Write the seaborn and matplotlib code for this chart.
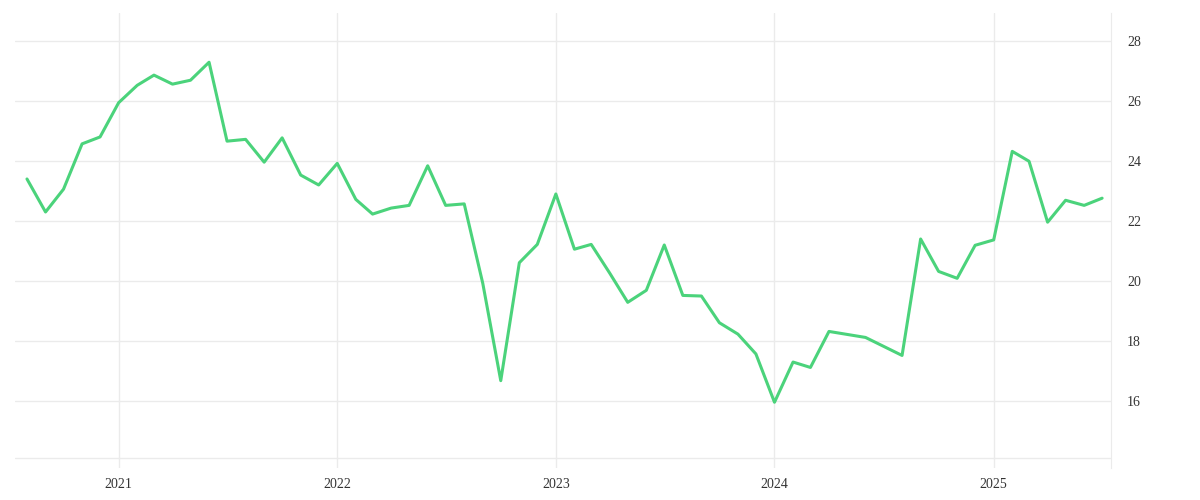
import pandas as pd
import matplotlib.pyplot as plt
import seaborn as sns

# monthly readings (May and Jul 2024 missing in the source)
months = [
    "2020-08", "2020-09", "2020-10", "2020-11", "2020-12",
    "2021-01", "2021-02", "2021-03", "2021-04", "2021-05", "2021-06",
    "2021-07", "2021-08", "2021-09", "2021-10", "2021-11", "2021-12",
    "2022-01", "2022-02", "2022-03", "2022-04", "2022-05", "2022-06",
    "2022-07", "2022-08", "2022-09", "2022-10", "2022-11", "2022-12",
    "2023-01", "2023-02", "2023-03", "2023-04", "2023-05", "2023-06",
    "2023-07", "2023-08", "2023-09", "2023-10", "2023-11", "2023-12",
    "2024-01", "2024-02", "2024-03", "2024-04", "2024-06",
    "2024-08", "2024-09", "2024-10", "2024-11", "2024-12",
    "2025-01", "2025-02", "2025-03", "2025-04", "2025-05", "2025-06",
    "2025-07",
]
values = [
    23.40, 22.30, 23.06, 24.57, 24.80,
    25.94, 26.52, 26.86, 26.56, 26.69, 27.29,
    24.66, 24.72, 23.96, 24.77, 23.53, 23.20,
    23.92, 22.72, 22.23, 22.43, 22.52, 23.84,
    22.52, 22.57, 19.92, 16.68, 20.61, 21.22,
    22.90, 21.06, 21.22, 20.26, 19.29, 19.69,
    21.20, 19.52, 19.50, 18.61, 18.23, 17.57,
    15.96, 17.30, 17.12, 18.32, 18.12,
    17.52, 21.40, 20.32, 20.09, 21.19,
    21.37, 24.32, 23.99, 21.96, 22.69, 22.52,
    22.76,
]
year_ticks = ["2021", "2022", "2023", "2024", "2025"]
value_ticks = [16, 18, 20, 22, 24, 26, 28]

df = pd.DataFrame({"date": pd.to_datetime(months), "value": values})

sns.set_style("white")
plt.rcParams["font.family"] = ["Liberation Serif", "DejaVu Serif"]

fig = plt.figure(figsize=(12, 5), dpi=100)
ax = fig.add_axes([15 / 1200, 32 / 500, (1110.5 - 15) / 1200, (468 - 12.7) / 500])

grid_col = "#ebebeb"
sns.lineplot(data=df, x="date", y="value", ax=ax, color="#4bd37b", linewidth=2.2)

ax.set_xlim(pd.Timestamp("2020-07-12"), pd.Timestamp("2025-07-15"))
ax.set_ylim(13.77, 28.94)
# baseline under the series
ax.axhline(14.1, color=grid_col, linewidth=1, zorder=0)

ax.yaxis.tick_right()
ax.set_yticks(value_ticks)
ax.set_yticklabels([str(v) for v in value_ticks])
ax.set_xticks(pd.to_datetime([y + "-01-01" for y in year_ticks]))
ax.set_xticklabels(year_ticks)
ax.tick_params(axis="both", length=0, labelsize=10, colors="#333333")
ax.tick_params(axis="y", pad=12)
ax.tick_params(axis="x", pad=7)

ax.grid(True, color=grid_col, linewidth=1)
ax.set_axisbelow(True)
for side in ["left", "top", "bottom"]:
    ax.spines[side].set_visible(False)
ax.spines["right"].set_color(grid_col)
ax.set_xlabel("")
ax.set_ylabel("")

fig.savefig("out.png", dpi=100)
